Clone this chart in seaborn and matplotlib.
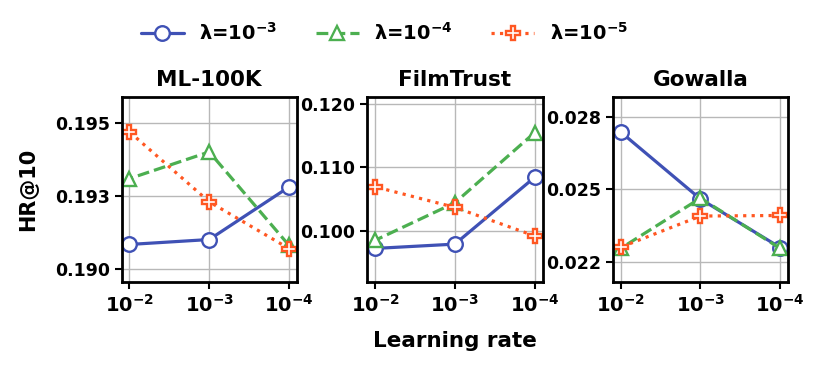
import numpy as np
import pandas as pd
import seaborn as sns
import matplotlib.pyplot as plt
from matplotlib.ticker import FormatStrFormatter, NullLocator, FixedLocator

# learning rates on x-axis
learning_rates = [1e-2, 1e-3, 1e-4]
datasets = ['ML-100K', 'FilmTrust', 'Gowalla']

# HR@10 for each dataset / lambda
ml100k_l3 = [0.19083, 0.19100, 0.19281]
ml100k_l4 = [0.19310, 0.19402, 0.19080]
ml100k_l5 = [0.19471, 0.19230, 0.19069]

filmtrust_l3 = [0.09722, 0.09790, 0.10843]
filmtrust_l4 = [0.09850, 0.10442, 0.11548]
filmtrust_l5 = [0.10695, 0.10370, 0.09920]

gowalla_l3 = [0.02699, 0.02467, 0.02299]
gowalla_l4 = [0.02296, 0.02470, 0.02296]
gowalla_l5 = [0.02300, 0.02408, 0.02410]

lambda_labels = [r'$\lambda$=10$^{-3}$', r'$\lambda$=10$^{-4}$', r'$\lambda$=10$^{-5}$']

y_ticks = {
    'ML-100K': [0.190, 0.1925, 0.195],
    'FilmTrust': [0.100, 0.110, 0.120],
    'Gowalla': [0.0225, 0.025, 0.0275],
}
y_limits = {
    'ML-100K': (0.18954, 0.19592),
    'FilmTrust': (0.09194, 0.12115),
    'Gowalla': (0.0218, 0.02821),
}

results = {
    'ML-100K': [ml100k_l3, ml100k_l4, ml100k_l5],
    'FilmTrust': [filmtrust_l3, filmtrust_l4, filmtrust_l5],
    'Gowalla': [gowalla_l3, gowalla_l4, gowalla_l5],
}

colors = ['#3f51b5', '#4caf50', '#ff5722']
markers = ['o', '^', 'P']
linestyles = ['-', '--', ':']

sns.set_style('ticks')
plt.rcParams['font.family'] = ['DejaVu Sans']
plt.rcParams['font.weight'] = 'bold'
plt.rcParams['axes.titleweight'] = 'bold'
plt.rcParams['axes.labelweight'] = 'bold'
plt.rcParams['mathtext.default'] = 'bf'
plt.rcParams['text.color'] = 'black'
plt.rcParams['axes.labelcolor'] = 'black'
plt.rcParams['xtick.color'] = 'black'
plt.rcParams['ytick.color'] = 'black'

fig, axes = plt.subplots(1, 3, figsize=(8.21, 3.68), dpi=100)
fig.subplots_adjust(left=0.148, right=0.96, top=0.737, bottom=0.234, wspace=0.40)

for ax, name in zip(axes, datasets):
    for vals, label, c, m, ls in zip(results[name], lambda_labels, colors, markers, linestyles):
        sns.lineplot(x=learning_rates, y=vals, ax=ax, color=c, marker=m, linestyle=ls,
                     linewidth=2.3, markersize=10.5, markerfacecolor='white',
                     markeredgecolor=c, markeredgewidth=1.7, label=label, legend=False)
    ax.set_xscale('log')
    ax.invert_xaxis()
    ax.xaxis.set_minor_locator(NullLocator())
    ax.set_ylim(*y_limits[name])
    ax.yaxis.set_major_locator(FixedLocator(y_ticks[name]))
    ax.yaxis.set_major_formatter(FormatStrFormatter('%.3f'))
    ax.set_title(name, fontsize=15.5, fontweight='bold', pad=8)
    ax.grid(True, color='#b8b8b8', linewidth=1)
    ax.set_axisbelow(True)
    ax.tick_params(axis='y', labelsize=12.5, width=1.5, length=5)
    ax.tick_params(axis='x', labelsize=14, width=1.5, length=5)
    for sp in ax.spines.values():
        sp.set_linewidth(2)
        sp.set_color('black')
    ax.set_xlabel('')
    ax.set_ylabel('')

axes[0].set_ylabel('HR@10', fontsize=15, fontweight='bold', labelpad=12)
axes[1].set_xlabel('Learning rate', fontsize=15.5, fontweight='bold', labelpad=11)

handles, labels = axes[0].get_legend_handles_labels()
fig.legend(handles, labels, loc='center', bbox_to_anchor=(0.468, 0.91), ncol=3,
           frameon=False, fontsize=14, columnspacing=2.0, handlelength=2.2)

plt.savefig('out.png', dpi=100)
